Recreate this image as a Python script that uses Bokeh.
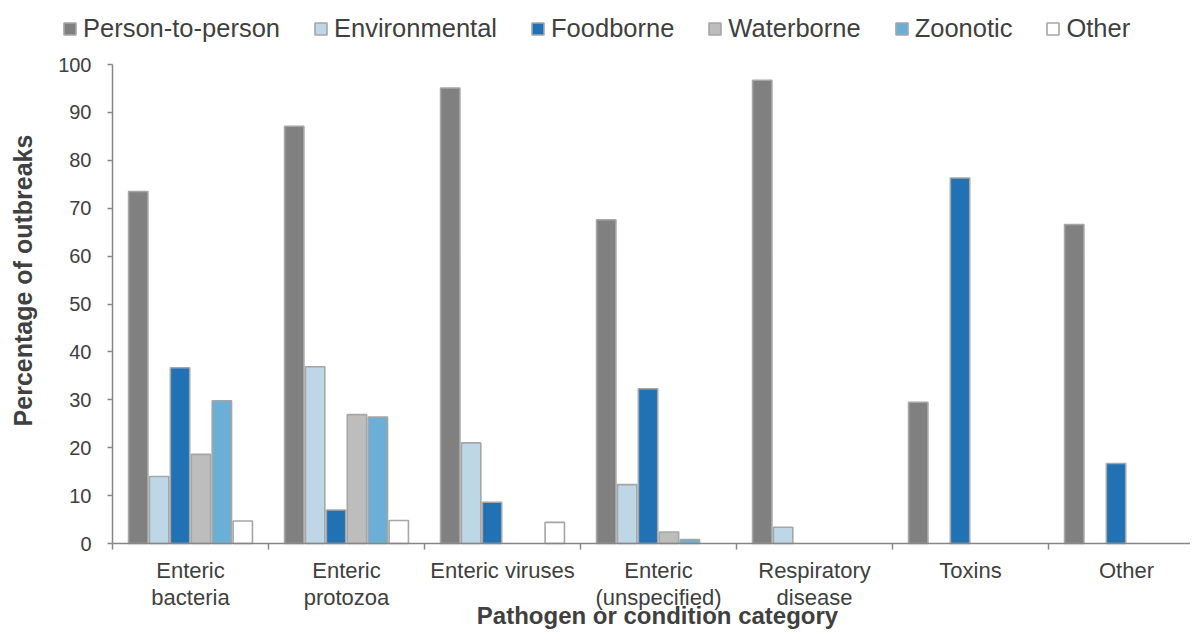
import math
from bokeh.plotting import figure
from bokeh.models import Range1d, FixedTicker, Legend, LegendItem, Label
from bokeh.embed import file_html
from bokeh.resources import INLINE

categories = ["Enteric\nbacteria", "Enteric\nprotozoa", "Enteric viruses", "Enteric\n(unspecified)",
              "Respiratory\ndisease", "Toxins", "Other"]
series_names = ["Person-to-person", "Environmental", "Foodborne", "Waterborne", "Zoonotic", "Other"]
person_to_person = [73.5, 87.1, 95.1, 67.6, 96.7, 29.5, 66.6]
environmental = [14.0, 36.9, 21.0, 12.3, 3.4, 0, 0]
foodborne = [36.7, 7.0, 8.6, 32.3, 0, 76.3, 16.7]
waterborne = [18.6, 26.9, 0, 2.4, 0, 0, 0]
zoonotic = [29.8, 26.4, 0, 0.8, 0, 0, 0]
other = [4.7, 4.8, 4.4, 0, 0, 0, 0]
y_ticks = [0, 10, 20, 30, 40, 50, 60, 70, 80, 90, 100]
x_title = "Pathogen or condition category"
y_title = "Percentage of outbreaks"

series_values = [person_to_person, environmental, foodborne, waterborne, zoonotic, other]
colors = ["#808080", "#BDD7E7", "#2171B5", "#BDBDBD", "#6BAED6", "#FFFFFF"]
FONT = "Liberation Sans"
TXT = "#404040"
AX = "#868686"
EDGE = "#A6A6A6"

# canvas layout (pixels)
W, H = 1190, 631
X0 = 112.0          # canvas x of the y axis
CAT_PX = 156.0      # width of one category
Y0 = 543.0          # canvas y of value 0
PX_PER_UNIT = 4.79  # pixels per percentage point

x_range = Range1d(-X0 / CAT_PX, (W - X0) / CAT_PX)
y_range = Range1d(-(H - Y0) / PX_PER_UNIT, Y0 / PX_PER_UNIT)

p = figure(width=W, height=H, output_backend="svg", toolbar_location=None,
           x_range=x_range, y_range=y_range, min_border=0)
p.outline_line_color = None
p.xgrid.visible = False
p.ygrid.visible = False

n = len(series_values)
step = 0.134
bar_w = 0.124
renderers = []
for k, (vals, col) in enumerate(zip(series_values, colors)):
    xs = [i + 0.5 + (k - (n - 1) / 2) * step for i in range(len(categories))]
    tops = [v if v > 0 else float("nan") for v in vals]
    r = p.vbar(x=xs, top=tops, bottom=0, width=bar_w, fill_color=col,
               line_color=EDGE, line_width=1.6)
    renderers.append(r)

# x axis (drawn at y = 0)
xa = p.xaxis[0]
xa.fixed_location = 0
xa.bounds = (0, (W - X0) / CAT_PX)
xa.ticker = FixedTicker(ticks=[i + 0.5 for i in range(len(categories))],
                        minor_ticks=list(range(0, len(categories) + 1)))
xa.major_label_overrides = {i + 0.5: c for i, c in enumerate(categories)}
xa.major_tick_line_color = None
xa.major_tick_out = 0
xa.major_tick_in = 0
xa.minor_tick_out = 6
xa.minor_tick_in = 0
xa.minor_tick_line_color = AX
xa.minor_tick_line_width = 1.5
xa.axis_line_color = AX
xa.axis_line_width = 1.5
xa.major_label_text_font = FONT
xa.major_label_text_font_size = "22px"
xa.major_label_text_color = TXT
xa.major_label_standoff = 8
xa.major_label_text_line_height = 1.1

# y axis (drawn at x = 0)
ya = p.yaxis[0]
ya.fixed_location = 0
ya.bounds = (0, 100)
ya.ticker = FixedTicker(ticks=y_ticks)
ya.minor_tick_line_color = None
ya.major_tick_out = 5
ya.major_tick_in = 0
ya.major_tick_line_color = AX
ya.major_tick_line_width = 1.5
ya.axis_line_color = AX
ya.axis_line_width = 1.5
ya.major_label_text_font = FONT
ya.major_label_text_font_size = "20px"
ya.major_label_text_color = TXT
ya.major_label_standoff = 16

# axis titles
p.add_layout(Label(x=657, y=H - 615, x_units="screen", y_units="screen", text=x_title,
                   text_font=FONT, text_font_size="24px", text_font_style="bold",
                   text_color=TXT, text_align="center", text_baseline="middle"))
p.add_layout(Label(x=22, y=H - 280, x_units="screen", y_units="screen", text=y_title,
                   angle=math.pi / 2, text_font=FONT, text_font_size="25px",
                   text_font_style="bold", text_color=TXT, text_align="center",
                   text_baseline="middle"))

legend = Legend(items=[LegendItem(label=nm, renderers=[r]) for nm, r in zip(series_names, renderers)],
                orientation="horizontal", location=(62, 588),
                glyph_width=15, glyph_height=15, label_standoff=6, spacing=33,
                padding=0, margin=0, label_text_font=FONT, label_text_font_size="25.5px",
                label_text_color=TXT, background_fill_alpha=0, border_line_color=None,
                label_height=20)
p.add_layout(legend, "center")

open("out.html", "w").write(file_html(p, INLINE))
